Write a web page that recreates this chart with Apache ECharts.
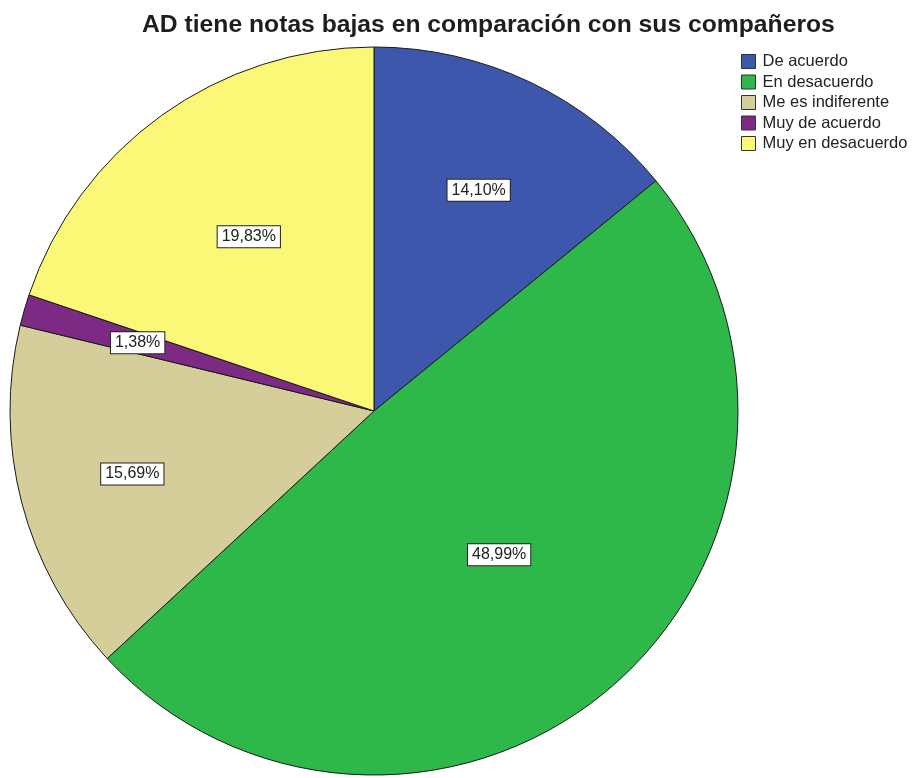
<!DOCTYPE html>
<html>
<head>
<meta charset="utf-8">
<script src="https://cdn.jsdelivr.net/npm/echarts@6/dist/echarts.min.js"></script>
<style>
  html, body { margin: 0; padding: 0; background: #fff; }
  #chart { width: 914px; height: 778px; }
</style>
</head>
<body>
<div id="chart"></div>
<script>
// datos
const categorias = ['De acuerdo', 'En desacuerdo', 'Me es indiferente', 'Muy de acuerdo', 'Muy en desacuerdo']
const porcentajes = [14.10, 48.99, 15.69, 1.38, 19.83]
const colores = ['#3d57ad', '#2eb84a', '#d5cd9a', '#7d2a84', '#fbf878']
// distancia relativa de cada etiqueta al centro (respecto a la posición por defecto)
const factorEtiqueta = [1.32, 1.03, 1.35, 1.33, 1.16]

const chart = echarts.init(document.getElementById('chart'))
const centro = [374, 411]

const option = {
  animation: false,
  backgroundColor: '#fff',
  title: {
    text: 'AD tiene notas bajas en comparación con sus compañeros',
    left: 137,
    top: 8,
    textStyle: {
      fontFamily: 'Liberation Sans',
      fontSize: 24.7,
      fontWeight: 'bold',
      color: '#1e1e1e'
    }
  },
  legend: {
    orient: 'vertical',
    left: 736,
    top: 48,
    itemWidth: 14,
    itemHeight: 14,
    itemGap: 3.5,
    icon: 'rect',
    textStyle: {
      fontFamily: 'Liberation Sans',
      fontSize: 16.5,
      color: '#222',
      padding: [0, 0, 0, 2]
    },
    itemStyle: { borderColor: '#333', borderWidth: 1 },
    data: categorias
  },
  series: [{
    type: 'pie',
    center: centro,
    radius: 364,
    startAngle: 90,
    clockwise: true,
    data: categorias.map((c, i) => ({
      name: c,
      value: porcentajes[i],
      itemStyle: { color: colores[i] }
    })),
    itemStyle: { borderColor: '#1a1a1a', borderWidth: 1 },
    label: {
      show: true,
      position: 'inside',
      formatter: p => porcentajes[p.dataIndex].toFixed(2).replace('.', ',') + '%',
      fontFamily: 'Liberation Sans',
      fontSize: 16,
      color: '#222',
      backgroundColor: '#fff',
      borderColor: '#222',
      borderWidth: 1,
      padding: [3, 4, 2, 4]
    },
    labelLine: { show: false },
    emphasis: { disabled: true },
    labelLayout: p => {
      const r = p.labelRect
      const cx = r.x + r.width / 2
      const cy = r.y + r.height / 2
      const f = factorEtiqueta[p.dataIndex]
      return {
        dx: (cx - centro[0]) * (f - 1),
        dy: (cy - centro[1]) * (f - 1)
      }
    }
  }]
}
chart.setOption(option)
</script>
</body>
</html>
